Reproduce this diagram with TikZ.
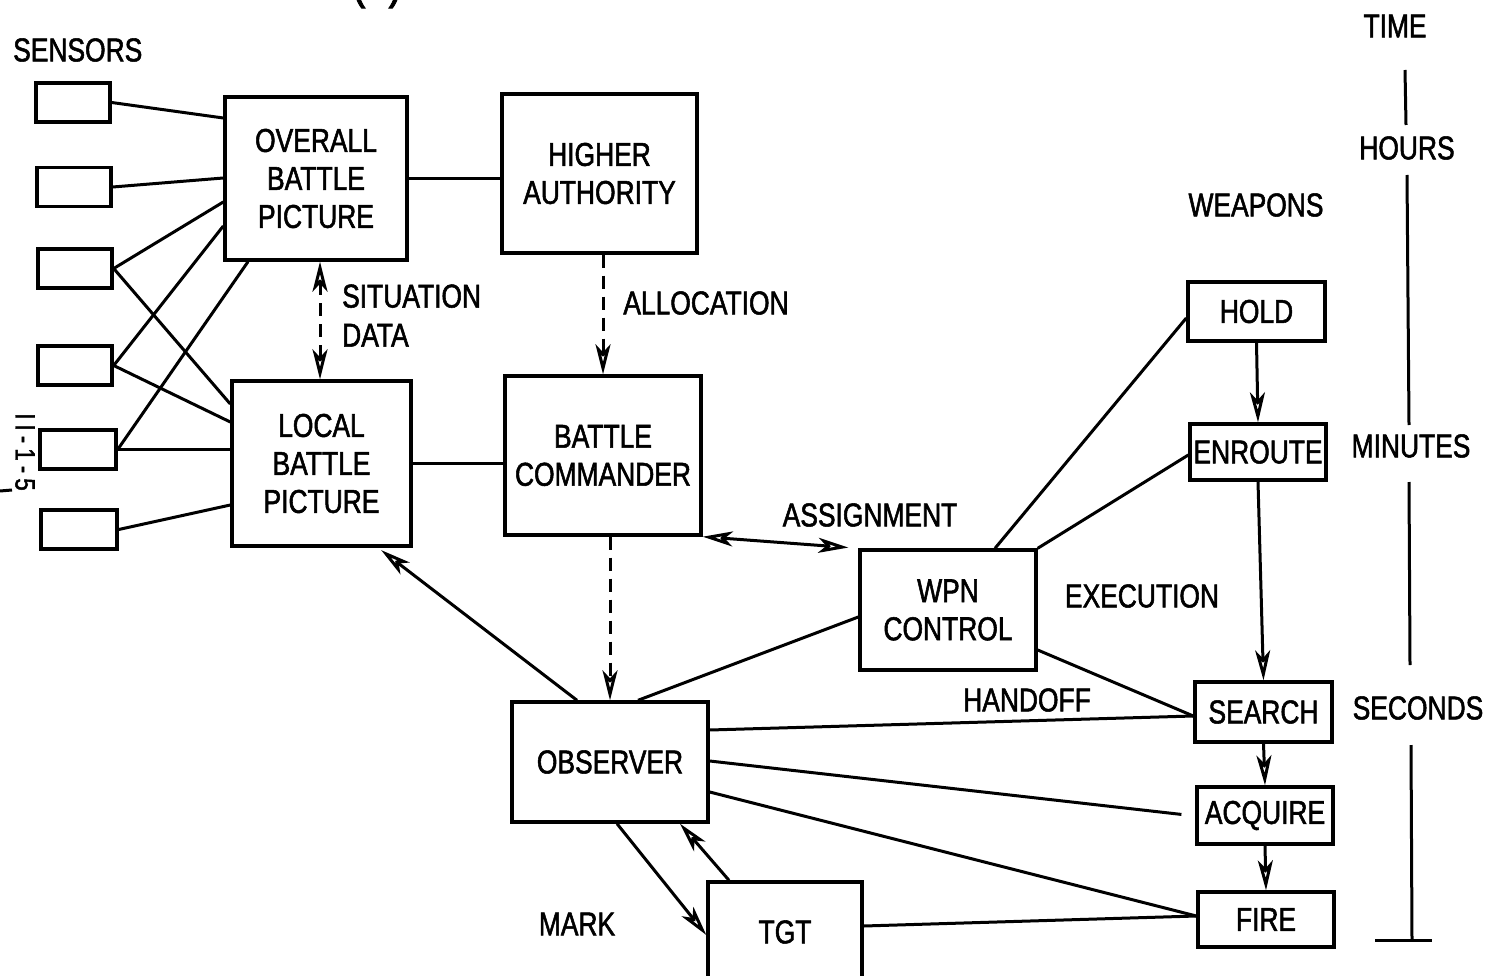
\documentclass[tikz,border=0pt]{standalone}
\usepackage{fontspec}
\setmainfont[FakeStretch=0.8,FakeBold=1.6]{Liberation Sans}
\newfontfamily\spacedfont[FakeStretch=0.8,FakeBold=1.6,LetterSpace=18]{Liberation Sans}
\usetikzlibrary{arrows.meta}
\begin{document}
\begin{tikzpicture}[x=1pt,y=-1pt,
  box/.style={draw, line width=3.4pt, align=center, inner sep=0pt, font=\fontsize{33}{38}\selectfont},
  sens/.style={draw, line width=3.4pt, inner sep=0pt, minimum width=74pt, minimum height=39pt},
  lab/.style={font=\fontsize{33}{39}\selectfont, inner sep=0pt, align=left},
  ln/.style={line width=3pt},
  arr/.style={ln, -{Stealth[open,length=30pt,width=15pt,inset=8pt]}},
  darr/.style={ln, {Stealth[open,length=30pt,width=15pt,inset=8pt]}-{Stealth[open,length=30pt,width=15pt,inset=8pt]}},
  dsh/.style={dash pattern=on 13pt off 8pt}]
\useasboundingbox (0,0) rectangle (1485,976);
\clip (0,0) rectangle (1485,976);

% partially visible heading
\node[font=\fontsize{52}{52}\selectfont, inner sep=0pt] (hdr) at (377,-16) {(a)};

% sensors
\node[lab, anchor=west] (sensors) at (13,50) {SENSORS};
\node[sens] (s1) at (73,102.5) {};
\node[sens] (s2) at (74,187) {};
\node[sens] (s3) at (75,268.5) {};
\node[sens] (s4) at (75,365.5) {};
\node[sens, minimum width=76pt] (s5) at (78,449.5) {};
\node[sens, minimum width=76pt] (s6) at (79,529.5) {};

% main boxes
\node[box, minimum width=182pt, minimum height=163pt] (obp) at (316,178.5) {OVERALL\\BATTLE\\PICTURE};
\node[box, minimum width=195pt, minimum height=159pt] (ha) at (599.5,173.5) {HIGHER\\AUTHORITY};
\node[box, minimum width=179pt, minimum height=165pt] (lbp) at (321.5,463.5) {LOCAL\\BATTLE\\PICTURE};
\node[box, minimum width=196pt, minimum height=159pt] (bc) at (603,455.5) {BATTLE\\COMMANDER};
\node[box, minimum width=176pt, minimum height=120pt] (wpn) at (948,610) {WPN\\CONTROL};
\node[box, minimum width=196pt, minimum height=120pt] (obs) at (610,762) {OBSERVER};
\node[box, minimum width=154pt, minimum height=100pt] (tgt) at (785,932) {TGT};

% weapons states
\node[box, minimum width=137pt, minimum height=59pt] (hold) at (1256.5,311.5) {HOLD};
\node[box, minimum width=136pt, minimum height=56pt] (enr) at (1258,452) {ENROUTE};
\node[box, minimum width=137pt, minimum height=60pt] (srch) at (1263.5,712) {SEARCH};
\node[box, minimum width=136pt, minimum height=57pt] (acq) at (1265,815.5) {ACQUIRE};
\node[box, minimum width=136pt, minimum height=55pt] (fire) at (1266,919.5) {FIRE};

% labels
\node[lab] (weapons) at (1256,205) {WEAPONS};
\node[lab, anchor=west] (sit) at (342,315.5) {SITUATION\\DATA};
\node[lab] (alloc) at (706,303) {ALLOCATION};
\node[lab] (assign) at (870,515) {ASSIGNMENT};
\node[lab] (exec) at (1142,596) {EXECUTION};
\node[lab] (handoff) at (1027,700) {HANDOFF};
\node[lab] (mark) at (577,924) {MARK};

% time axis
\node[lab] (time) at (1395,26) {TIME};
\node[lab] (hours) at (1407,148) {HOURS};
\node[lab] (minutes) at (1411,446) {MINUTES};
\node[lab] (seconds) at (1418,708) {SECONDS};
\coordinate (t1a) at (1405,70);  \coordinate (t1b) at (1406,125);
\coordinate (t2a) at (1407,175); \coordinate (t2b) at (1409,425);
\coordinate (t3a) at (1409,482); \coordinate (t3b) at (1410,665);
\coordinate (t4a) at (1411,745); \coordinate (t4b) at (1412,940);
\coordinate (barL) at (1375,940); \coordinate (barR) at (1432,940);
\draw[ln] (t1a) -- (t1b);
\draw[ln] (t2a) -- (t2b);
\draw[ln] (t3a) -- (t3b);
\draw[ln] (t4a) -- (t4b);
\draw[ln] (barL) -- (barR);

% page number
\node[font=\spacedfont\fontsize{28}{28}\selectfont, rotate=-90, inner sep=0pt] (pg) at (25,452) {II-1-5};
\coordinate (pgA) at (0,491); \coordinate (pgB) at (12,490);
\draw[ln] (pgA) -- (pgB);

% sensor links
\draw[ln] (s1.east) -- (obp.west |- 0,118);
\draw[ln] (s2.east) -- (obp.west |- 0,178);
\draw[ln] (s3.east) -- (obp.west |- 0,202);
\draw[ln] (s3.east) -- (lbp.west |- 0,404);
\draw[ln] (s4.east) -- (obp.west |- 0,226);
\draw[ln] (s4.east) -- (lbp.west |- 0,422);
\draw[ln] (s5.east) -- (obp.south -| 248,0);
\draw[ln] (s5.east) -- (lbp.west |- s5.east);
\draw[ln] (s6.east) -- (lbp.west |- 0,505);

% main links
\draw[ln] (obp.east) -- (ha.west |- obp.east);
\draw[ln] (lbp.east) -- (bc.west |- lbp.east);
\draw[darr, dsh] (obp.south -| 320,0) -- (lbp.north -| 320,0);
\draw[arr, dsh] (ha.south -| 603,0) -- (bc.north -| 603,0);
\draw[arr, dsh] (bc.south -| 610,0) -- (obs.north -| 610,0);
\draw[darr, shorten >=10pt] (bc.south east) -- (wpn.north west);
\draw[arr, shorten >=4pt] (obs.north -| 577,0) -- (lbp.south -| 378,0);
\draw[ln] (obs.north -| 638,0) -- (wpn.west |- 0,617);
\draw[ln] (wpn.north -| 995,0) -- (hold.west |- 0,318);
\draw[ln] (wpn.north east) -- (enr.west |- 0,455);
\draw[ln] (wpn.east |- 0,650) -- (srch.west |- 0,716);
\draw[ln] (obs.east |- 0,730) -- (srch.west |- 0,716);
\draw[ln, shorten >=14pt] (obs.east |- 0,761) -- (acq.west |- 0,816);
\draw[ln] (obs.east |- 0,792) -- (fire.west |- 0,916);
\draw[ln] (tgt.east |- 0,926) -- (fire.west |- 0,916);
\draw[arr] (obs.south -| 617,0) -- (tgt.west |- 0,935);
\draw[arr] (tgt.north -| 729,0) -- (obs.south -| 680,0);

% weapon state flow
\draw[arr] (hold.south) -- (enr.north);
\draw[arr] (enr.south) -- (srch.north);
\draw[arr] (srch.south) -- (acq.north);
\draw[arr] (acq.south) -- (fire.north);
\end{tikzpicture}
\end{document}
